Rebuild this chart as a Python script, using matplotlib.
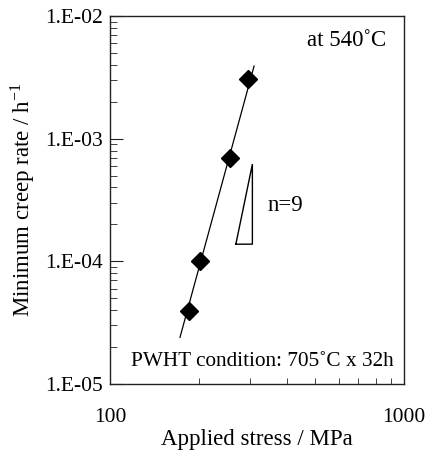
import numpy as np
import matplotlib
matplotlib.use("Agg")
import matplotlib.pyplot as plt
from matplotlib.ticker import FixedLocator, LogLocator, NullFormatter, FuncFormatter

# Datos
stress = [186, 203, 255, 295]
creep_rate = [3.9e-5, 1.0e-4, 6.9e-4, 3.05e-3]

# Recta de ajuste (extremos)
fit_stress = [173, 309]
fit_rate = [2.4e-5, 3.9e-3]

# Triangulo de pendiente n=9
tri_stress = [268, 305, 305, 268]
tri_rate = [1.38e-4, 1.38e-4, 6.2e-4, 1.38e-4]

y_ticks = [1e-5, 1e-4, 1e-3, 1e-2]
y_labels = ["1.E-05", "1.E-04", "1.E-03", "1.E-02"]

plt.rcParams["font.family"] = ["Liberation Serif", "DejaVu Serif"]
plt.rcParams["mathtext.fontset"] = "stix"

fig = plt.figure(figsize=(4.25, 4.5), dpi=100)
ax = fig.add_axes([110 / 425, 1 - 384 / 450, 294 / 425, 368 / 450])

ax.plot(fit_stress, fit_rate, color="black", lw=0.9, zorder=2)
ax.plot(stress, creep_rate, "D", color="black", ms=9, zorder=3)
ax.plot(tri_stress, tri_rate, color="black", lw=1.0, solid_joinstyle="miter")

ax.set_xscale("log")
ax.set_yscale("log")
ax.set_xlim(100, 1000)
ax.set_ylim(1e-5, 1e-2)

ax.yaxis.set_major_locator(FixedLocator(y_ticks))
ax.yaxis.set_major_formatter(FuncFormatter(lambda v, p: y_labels[y_ticks.index(v)] if v in y_ticks else ""))
ax.yaxis.set_minor_locator(LogLocator(base=10, subs=np.arange(2, 10)))
ax.yaxis.set_minor_formatter(NullFormatter())
ax.xaxis.set_minor_locator(LogLocator(base=10, subs=np.arange(2, 10)))
ax.xaxis.set_minor_formatter(NullFormatter())
ax.set_xticks([100, 1000])
ax.set_xticklabels(["100", "1000"])

ax.tick_params(which="both", direction="in", top=False, right=False, colors="#222222", labelcolor="black", labelsize=15.5)
ax.tick_params(axis="y", which="major", length=9, pad=5)
ax.tick_params(axis="y", which="minor", length=5)
ax.tick_params(axis="x", which="major", length=0, pad=17.5)
ax.tick_params(axis="x", which="minor", length=4)
for s in ax.spines.values():
    s.set_color("#222222")
    s.set_linewidth(1.0)

ax.set_xlabel("Applied stress / MPa", fontsize=16.5, labelpad=1)
ax.set_ylabel("Minimum creep rate / h$^{\\mathregular{-1}}$", fontsize=16.5, labelpad=6)

ax.text(0.939, 0.933, "at 540\u02daC", transform=ax.transAxes, ha="right", va="center", fontsize=16.5)
ax.text(0.537, 0.484, "n=9", transform=ax.transAxes, ha="left", va="center", fontsize=16.5)
ax.text(0.966, 0.0625, "PWHT condition: 705\u02daC x 32h", transform=ax.transAxes, ha="right", va="center", fontsize=15.3)

fig.savefig("out.png", dpi=100)
